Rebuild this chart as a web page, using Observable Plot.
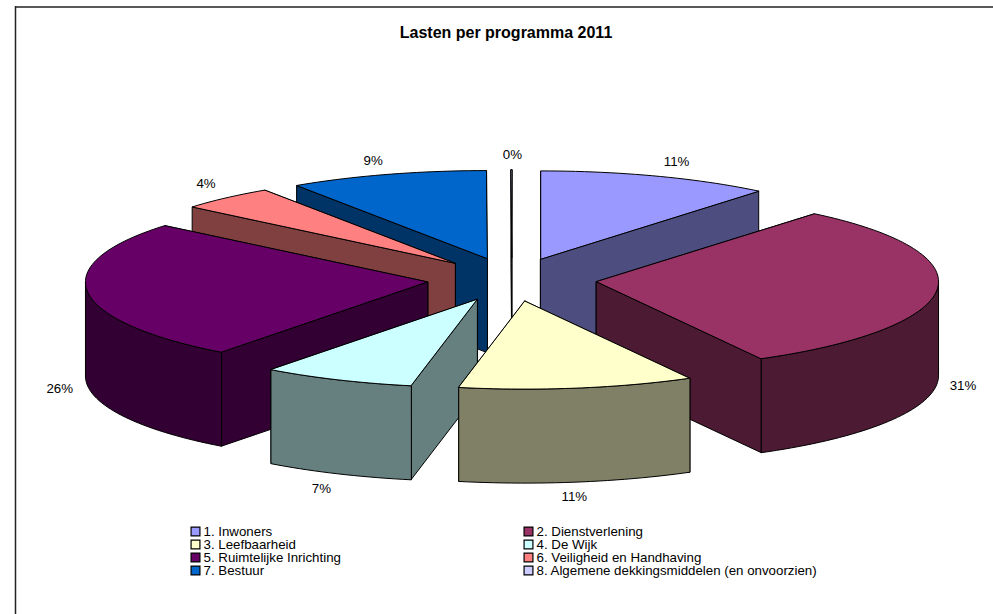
<!DOCTYPE html>
<html><head><meta charset="utf-8">
<script src="https://cdn.jsdelivr.net/npm/d3@7"></script>
<script src="https://cdn.jsdelivr.net/npm/@observablehq/plot@0.6"></script>
<style>html,body{margin:0;padding:0;background:#fff}svg{display:block}</style>
</head><body><div id="chart"></div>
<script>
const programmes = ["1. Inwoners","2. Dienstverlening","3. Leefbaarheid","4. De Wijk","5. Ruimtelijke Inrichting","6. Veiligheid en Handhaving","7. Bestuur","8. Algemene dekkingsmiddelen (en onvoorzien)"];
const shares = [11,31,11.1,7.2,25.75,4.55,9.36,0.04];
const shareLabels = ["11%","31%","11%","7%","26%","4%","9%","0%"];
const topColors = ["#9999FF","#993366","#FFFFCC","#CCFFFF","#660066","#FF8080","#0066CC","#CCCCFF"];
const wallColors = ["#4D4D80","#4D1A33","#808066","#668080","#330033","#804040","#003366","#666680"];
const paintOrder = [6,7,0,5,1,4,3,2];
const labelNudge = [[20,-14],[26,2],[-3,15],[-16,15],[-28,3],[-20,-14],[-14,-14],[1,-15]];

const W=993,H=614, cx=511.4, cy=279, rx=342, ry=88, depth=94, explode=85;
const total=d3.sum(shares), rad=Math.PI/180;
let acc=0;
const slices=shares.map((v,i)=>{const a0=acc/total*360; acc+=v; const a1=acc/total*360; const mid=(a0+a1)/2*rad;
  return {i,a0,a1,mid,ax:cx+explode*Math.sin(mid),ay:cy-explode*ry/rx*Math.cos(mid)};});
const pt=(s,a)=>[s.ax+rx*Math.sin(a*rad), s.ay-ry*Math.cos(a*rad)];
const arc=(s,a0,a1)=>{const n=Math.max(1,Math.ceil((a1-a0)/1.5));return d3.range(n+1).map(k=>pt(s,a0+(a1-a0)*k/n));};
const rows=[];
const add=(name,fill,points)=>points.forEach(([x,y])=>rows.push({name,fill,x,y}));
for(const idx of paintOrder){const s=slices[idx];
  const wall=(a,tag)=>{const p=pt(s,a);add(idx+tag,wallColors[idx],[[s.ax,s.ay],p,[p[0],p[1]+depth],[s.ax,s.ay+depth]]);};
  if(Math.sin(s.a0*rad)>=0) wall(s.a0,"s");
  if(Math.sin(s.a1*rad)<=0) wall(s.a1,"e");
  if(Math.sin(s.a0*rad)<0) wall(s.a0,"s");
  if(Math.sin(s.a1*rad)>0) wall(s.a1,"e");
  const r0=Math.max(s.a0,90),r1=Math.min(s.a1,270);
  if(r1>r0){const top=arc(s,r0,r1);add(idx+"r",wallColors[idx],[...top,...top.slice().reverse().map(([x,y])=>[x,y+depth])]);}
  add(idx+"t",topColors[idx],[[s.ax,s.ay],...arc(s,s.a0,s.a1)]);
}
const labels=slices.map(s=>{const x=s.ax+rx*Math.sin(s.mid);let y=s.ay-ry*Math.cos(s.mid);if(Math.cos(s.mid)<0)y+=depth;
  return {t:shareLabels[s.i],x:x+labelNudge[s.i][0],y:y+labelNudge[s.i][1]};});
const legendRowY=[531,544,557,570], legendColX=[195,528];
const legend=programmes.map((name,i)=>({name,color:topColors[i],x:legendColX[i%2],y:legendRowY[i>>1]}));
const font="Liberation Sans, Arial, sans-serif";
const chart=Plot.plot({width:W,height:H,margin:0,
  x:{domain:[0,W],range:[0,W],axis:null},y:{domain:[0,H],range:[0,H],axis:null},
  style:{fontFamily:font,background:"#fff"},
  marks:[
    Plot.ruleX([15],{y1:6,y2:H,stroke:"#222",strokeWidth:1.5}),
    Plot.ruleY([6.5],{x1:15,x2:W,stroke:"#222",strokeWidth:1.5}),
    Plot.line(rows,{x:"x",y:"y",z:"name",fill:d=>d.fill,stroke:"#000",strokeWidth:1,curve:"linear-closed",strokeLinejoin:"round"}),
    Plot.text(["Lasten per programma 2011"],{frameAnchor:"top",dy:26,fontSize:16,fontWeight:"bold",fill:"#000",dx:9}),
    Plot.text(labels,{x:"x",y:"y",text:"t",fontSize:13.3,fill:"#000"}),
    Plot.dot(legend,{x:"x",y:"y",symbol:"square",r:5,fill:"color",stroke:"#000",strokeWidth:1.2}),
    Plot.text(legend,{x:"x",y:"y",text:"name",dx:8,textAnchor:"start",fontSize:13.3,fill:"#000"})
  ]});
document.getElementById("chart").append(chart);
</script></body></html>
